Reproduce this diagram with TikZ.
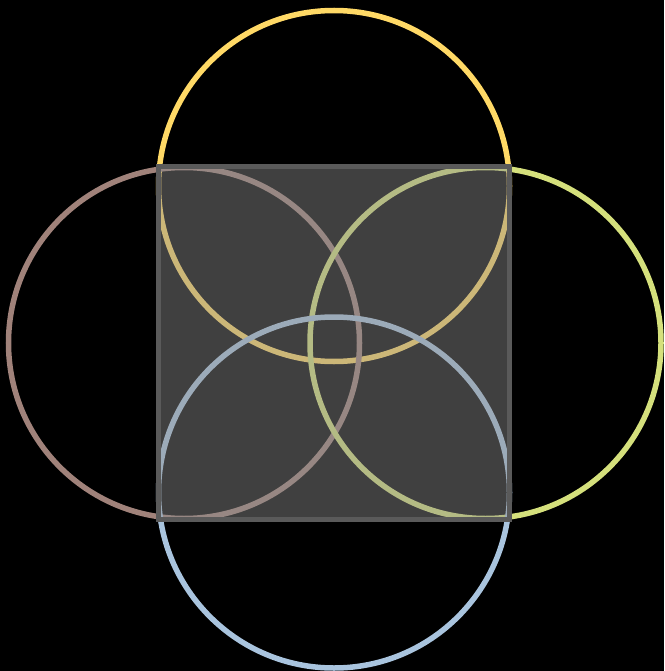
\documentclass[tikz,border=0pt]{standalone}
\begin{document}
\begin{tikzpicture}[x=1pt,y=-1pt,
  ring/.style={line width=5.5pt},
  sq/.style={draw={rgb,255:red,90;green,90;blue,90},line width=5pt,fill={rgb,255:red,142;green,142;blue,142},fill opacity=0.45}]
\fill[black] (0,0) rectangle (664,671);
\useasboundingbox (0,0) rectangle (664,671);
\definecolor{cyel}{RGB}{255,217,102}
\definecolor{cbrn}{RGB}{160,130,122}
\definecolor{cgrn}{RGB}{213,224,124}
\definecolor{cblu}{RGB}{169,196,222}
\node[circle,draw=cyel,ring,minimum size=351pt,inner sep=0pt] (top) at (334,186) {};
\node[circle,draw=cbrn,ring,minimum size=351pt,inner sep=0pt] (left) at (184,343) {};
\node[circle,draw=cgrn,ring,minimum size=351pt,inner sep=0pt] (right) at (485.5,343) {};
\node[circle,draw=cblu,ring,minimum size=351pt,inner sep=0pt] (bottom) at (334,492.5) {};
\draw[sq] (158.5,166.5) rectangle (509.5,519);
\end{tikzpicture}
\end{document}
